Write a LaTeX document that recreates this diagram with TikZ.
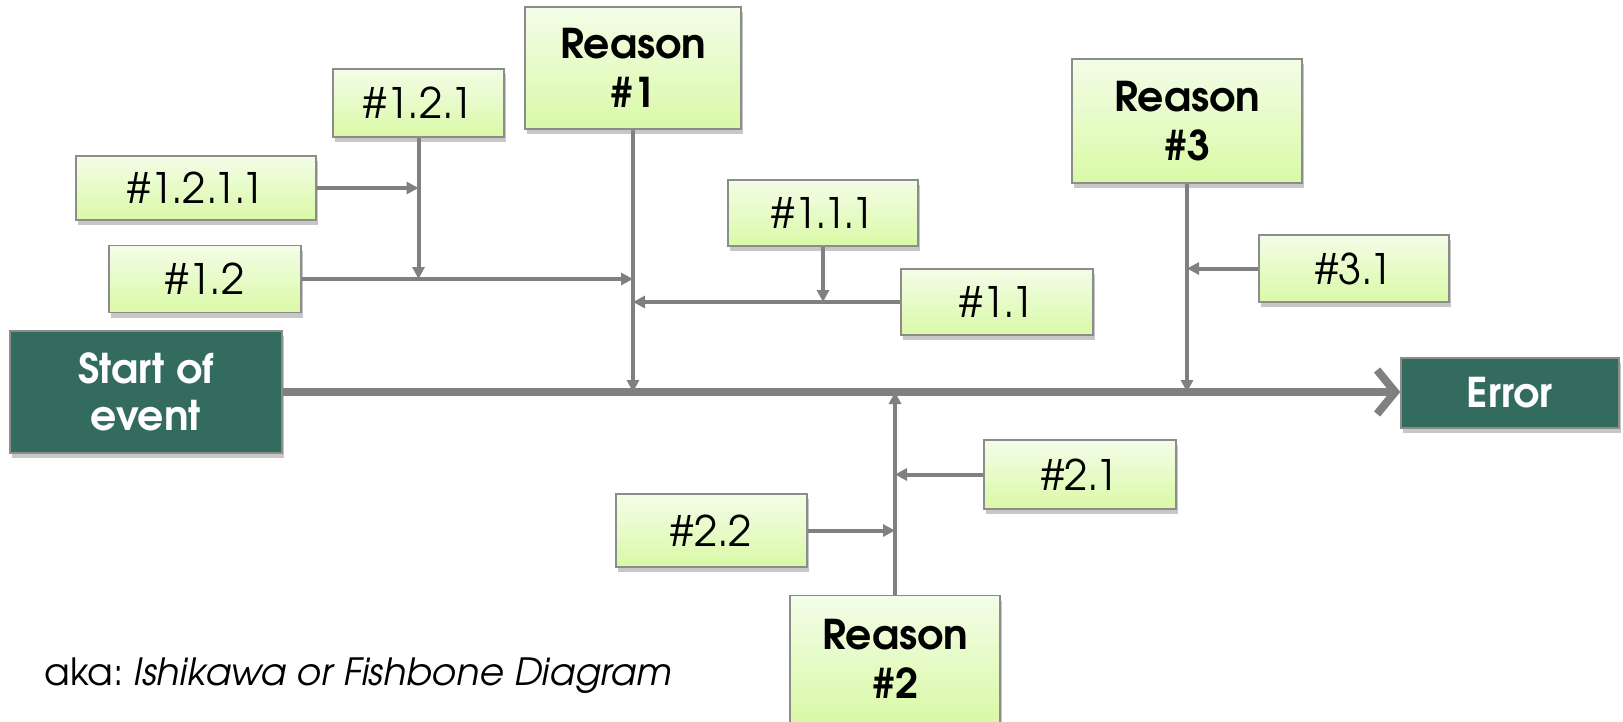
\documentclass[tikz,border=0pt]{standalone}
\usepackage{fontspec}
\setmainfont{TeX Gyre Adventor}
\usetikzlibrary{arrows.meta,shadows}
\definecolor{leafTop}{RGB}{243,253,232}
\definecolor{leafBot}{RGB}{218,249,166}
\definecolor{boxLine}{RGB}{140,140,140}
\definecolor{endGreen}{RGB}{51,107,94}
\definecolor{bone}{RGB}{128,128,128}
\begin{document}
\begin{tikzpicture}[x=1pt,y=-1pt,
  boxshadow/.style={drop shadow={shadow xshift=2pt,shadow yshift=-5pt,fill=black,opacity=0.22}},
  leaf/.style={draw=boxLine,line width=1.5pt,top color=leafTop,bottom color=leafBot,
    boxshadow,inner sep=0pt,align=center,font=\fontsize{42}{48}\selectfont},
  reason/.style={leaf,font=\fontsize{41}{49}\selectfont\bfseries},
  endbox/.style={draw=boxLine,line width=1.5pt,fill=endGreen,text=white,boxshadow,
    inner sep=0pt,align=center,font=\fontsize{41}{47}\selectfont\bfseries},
  spine/.style={draw=bone,line width=8pt,-{Straight Barb[length=18pt,width=44pt]}},
  branch/.style={draw=bone,line width=4pt,-{Triangle[length=12pt,width=12pt]}},
]
\useasboundingbox (0,0) rectangle (1623,721);

% head and tail of the fish
\node[endbox,minimum width=272pt,minimum height=122pt] (start) at (146,392) {Start of\\event};
\node[endbox,minimum width=218pt,minimum height=70pt] (error) at (1510,393) {Error};

% main causes
\node[reason,minimum width=216pt,minimum height=122pt] (R1) at (633,68) {Reason\\\#1};
\node[reason,minimum width=230pt,minimum height=124pt] (R3) at (1187,121) {Reason\\\#3};
\node[reason,minimum width=210pt,minimum height=127pt] (R2) at (895,659) {Reason\\\#2};

% sub-causes
\node[leaf,minimum width=171pt,minimum height=68pt] (n121) at (418.5,103) {\#1.2.1};
\node[leaf,minimum width=240pt,minimum height=64pt] (n1211) at (196,188) {\#1.2.1.1};
\node[leaf,minimum width=192pt,minimum height=67pt] (n12) at (205,279) {\#1.2};
\node[leaf,minimum width=190pt,minimum height=66pt] (n111) at (823,213) {\#1.1.1};
\node[leaf,minimum width=192pt,minimum height=66pt] (n11) at (997,302) {\#1.1};
\node[leaf,minimum width=190pt,minimum height=67pt] (n31) at (1354,268.5) {\#3.1};
\node[leaf,minimum width=192pt,minimum height=69pt] (n21) at (1080,474.5) {\#2.1};
\node[leaf,minimum width=191pt,minimum height=73pt] (n22) at (711.5,530.5) {\#2.2};

\node[anchor=base west,font=\fontsize{37.5}{40}\selectfont] (aka) at (41,685)
  {aka:\hspace{-0.1em} \textit{Ishikawa or Fishbone Diagram}};

% backbone
\draw[spine] (start.east) -- (start.east -| error.west);

% bones into the backbone
\draw[branch] (R1.south) -- (R1.south |- start.east);
\draw[branch] (R3.south) -- (R3.south |- start.east);
\draw[branch] (R2.north) -- (R2.north |- start.east);

% cause #1
\draw[branch] (n12.east) -- (n12.east -| R1.south);
\draw[branch] (n11.west) -- (n11.west -| R1.south);
\draw[branch] (n121.south) -- (n121.south |- n12.east);
\draw[branch] (n1211.east) -- (n1211.east -| n121.south);
\draw[branch] (n111.south) -- (n111.south |- n11.west);

% cause #3
\draw[branch] (n31.west) -- (n31.west -| R3.south);

% cause #2
\draw[branch] (n21.west) -- (n21.west -| R2.north);
\draw[branch] (n22.east) -- (n22.east -| R2.north);
\end{tikzpicture}
\end{document}
